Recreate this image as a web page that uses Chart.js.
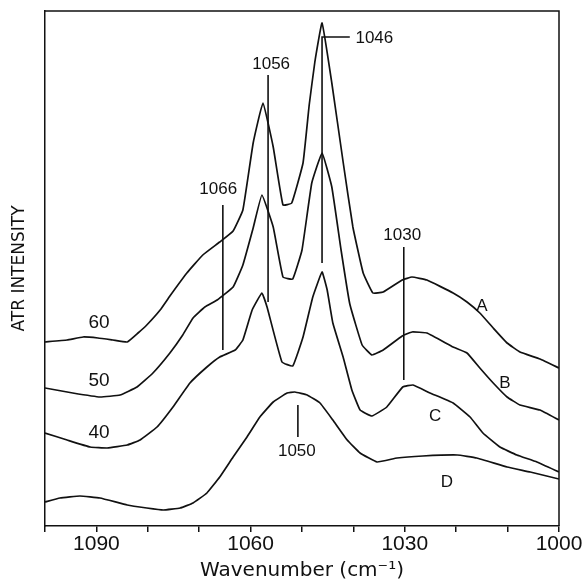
<!DOCTYPE html>
<html>
<head>
<meta charset="utf-8">
<script src="https://cdn.jsdelivr.net/npm/chart.js@4.4.1/dist/chart.umd.min.js"></script>
<style>
    html, body { margin: 0; padding: 0; background: #ffffff; }
    #wrap { width: 588px; height: 588px; }
</style>
</head>
<body>
<div id="wrap"><canvas id="atrChart" width="588" height="588"></canvas></div>
<script>
// Spectra (wavenumber in cm-1, intensity in arbitrary units)
const wavenumberA = [1100, 1095.7, 1092.6, 1089.7, 1086.8, 1084.0, 1081.9, 1080.2, 1077.6, 1075.7, 1072.4, 1069.3, 1066.0, 1063.4, 1061.5, 1059.5, 1057.6, 1055.6, 1053.7, 1052.0, 1049.8, 1048.6, 1047.5, 1046.1, 1044.2, 1042.0, 1040.1, 1038.1, 1036.2, 1034.2, 1030.5, 1028.6, 1025.7, 1020.6, 1017.9, 1015.4, 1012.8, 1010.1, 1007.6, 1003.7, 1000];
const intensityA  = [184, 186, 189, 188, 186, 184, 193, 201, 216, 230, 253, 271, 284, 295, 316, 383, 423, 379, 321, 323, 363, 421, 464, 503, 443, 364, 299, 253, 233, 234, 246, 249, 246, 233, 224, 213, 198, 183, 174, 167, 158];

const wavenumberB = [1100, 1094.6, 1089.3, 1085.4, 1082.1, 1079.0, 1075.7, 1073.2, 1071.2, 1068.9, 1066.5, 1063.4, 1061.5, 1059.5, 1057.8, 1055.6, 1053.7, 1051.8, 1050.0, 1048.1, 1046.1, 1044.2, 1042.4, 1040.7, 1038.3, 1036.4, 1034.2, 1030.5, 1028.6, 1025.7, 1020.6, 1017.9, 1015.4, 1012.8, 1010.1, 1007.6, 1003.7, 1000];
const intensityB  = [138, 133, 129, 131, 139, 153, 173, 191, 208, 219, 226, 239, 261, 298, 331, 299, 249, 247, 276, 343, 373, 339, 276, 222, 181, 171, 176, 190, 194, 193, 179, 173, 158, 143, 129, 121, 116, 106];

const wavenumberC = [1100, 1095.7, 1091.2, 1087.9, 1084.0, 1081.5, 1078.2, 1075.1, 1071.8, 1068.5, 1066.0, 1063.0, 1061.5, 1059.7, 1057.8, 1056.8, 1053.9, 1051.8, 1049.8, 1047.9, 1046.1, 1045.1, 1044.0, 1042.0, 1040.3, 1038.7, 1036.4, 1033.5, 1030.4, 1028.4, 1025.1, 1020.6, 1017.3, 1014.8, 1011.5, 1008.2, 1004.3, 1000];
const intensityC  = [93, 86, 79, 78, 81, 86, 99, 119, 143, 159, 169, 176, 186, 216, 233, 219, 164, 160, 189, 229, 254, 236, 203, 169, 136, 116, 110, 119, 139, 141, 133, 123, 109, 93, 79, 71, 64, 54];

const wavenumberD = [1100, 1097.1, 1093.2, 1089.3, 1084.0, 1080.2, 1077.0, 1073.7, 1071.2, 1068.5, 1066.0, 1063.4, 1060.7, 1058.2, 1055.6, 1052.9, 1051.4, 1049.0, 1046.5, 1044.0, 1041.2, 1038.7, 1035.4, 1031.5, 1026.5, 1019.8, 1016.0, 1010.1, 1005.6, 1000];
const intensityD  = [24, 28, 30, 28, 21, 18, 16, 18, 23, 33, 49, 69, 89, 109, 124, 133, 134, 131, 123, 106, 86, 73, 64, 68, 70, 71, 68, 59, 54, 47];

// Peak marker lines (wavenumber, lower and upper intensity) and their labels
const markerWavenumber = [1065.4, 1056.6, 1046.1, 1030.2, 1050.8];
const markerLow        = [176, 224, 263, 146, 89];
const markerHigh       = [321, 451, 489, 279, 121];
const leader1046End    = 1040.7;

const peakLabelText = ['1066', '1056', '1046', '1030', '1050'];
const peakLabelX    = [1066.3, 1056.0, 1039.6, 1030.5, 1051.0];
const peakLabelY    = [337, 462, 488, 291, 75];

// Temperature and curve letters
const curveLabelText = ['60', '50', '40', 'A', 'B', 'C', 'D'];
const curveLabelX    = [1089.5, 1089.5, 1089.5, 1015.0, 1010.5, 1024.1, 1021.8];
const curveLabelY    = [203, 145, 93, 220, 143, 110, 44];

// X axis labels every 30 cm-1
const labelledTicks = [1090, 1060, 1030, 1000];

const INK = '#111111';

function toPoints(xs, ys) {
    return xs.map((x, i) => ({ x: x, y: ys[i] }));
}

function spectrum(xs, ys) {
    return {
        data: toPoints(xs, ys),
        borderColor: INK,
        borderWidth: 1.7,
        pointRadius: 0,
        tension: 0.1,
        fill: false
    };
}

function marker(i) {
    const x = markerWavenumber[i];
    const pts = [{ x: x, y: markerLow[i] }, { x: x, y: markerHigh[i] }];
    if (peakLabelText[i] === '1046') {
        pts.push({ x: leader1046End, y: markerHigh[i] });
    }
    return {
        data: pts,
        borderColor: INK,
        borderWidth: 1.6,
        pointRadius: 0,
        tension: 0,
        fill: false
    };
}

// Frame on top/right plus all text annotations
const annotationPlugin = {
    id: 'annotations',
    afterDatasetsDraw(chart) {
        const ctx = chart.ctx;
        const xs = chart.scales.x;
        const ys = chart.scales.y;
        const area = chart.chartArea;

        ctx.save();
        ctx.strokeStyle = INK;
        ctx.lineWidth = 1.5;
        ctx.beginPath();
        ctx.moveTo(area.left, area.top);
        ctx.lineTo(area.right, area.top);
        ctx.lineTo(area.right, area.bottom);
        ctx.stroke();

        ctx.fillStyle = INK;
        ctx.textBaseline = 'middle';

        ctx.font = '17px "Liberation Sans", Arial, sans-serif';
        peakLabelText.forEach((t, i) => {
            ctx.textAlign = t === '1046' ? 'left' : 'center';
            ctx.fillText(t, xs.getPixelForValue(peakLabelX[i]), ys.getPixelForValue(peakLabelY[i]));
        });

        curveLabelText.forEach((t, i) => {
            ctx.textAlign = 'center';
            ctx.font = (/^\d/.test(t) ? '19px' : '17px') + ' "Liberation Sans", Arial, sans-serif';
            ctx.fillText(t, xs.getPixelForValue(curveLabelX[i]), ys.getPixelForValue(curveLabelY[i]));
        });
        ctx.restore();
    }
};

const datasets = [
    spectrum(wavenumberA, intensityA),
    spectrum(wavenumberB, intensityB),
    spectrum(wavenumberC, intensityC),
    spectrum(wavenumberD, intensityD)
];
markerWavenumber.forEach((_, i) => datasets.push(marker(i)));

const ctx = document.getElementById('atrChart').getContext('2d');
new Chart(ctx, {
    type: 'line',
    data: { datasets: datasets },
    options: {
        responsive: false,
        animation: false,
        layout: { padding: { top: 11, right: 29, left: 0, bottom: 0 } },
        plugins: {
            legend: { display: false },
            tooltip: { enabled: false }
        },
        scales: {
            x: {
                type: 'linear',
                reverse: true,
                min: 1000,
                max: 1100,
                afterFit: (scale) => { scale.height = 62; },
                grid: {
                    drawOnChartArea: false,
                    drawTicks: true,
                    tickLength: 6,
                    color: INK,
                    lineWidth: 1.5
                },
                border: { display: true, color: INK, width: 1.5 },
                ticks: {
                    stepSize: 10,
                    autoSkip: false,
                    maxRotation: 0,
                    padding: 0,
                    color: INK,
                    font: { family: '"Liberation Sans", Arial, sans-serif', size: 21 },
                    callback: (value) => labelledTicks.includes(value) ? String(value) : ''
                },
                title: {
                    display: true,
                    text: 'Wavenumber (cm\u207B\u00B9)',
                    color: INK,
                    font: { family: '"DejaVu Sans", sans-serif', size: 20 },
                    padding: { top: 0, bottom: 5 }
                }
            },
            y: {
                min: 0,
                max: 515,
                afterFit: (scale) => { scale.width = 45; },
                grid: { display: false },
                border: { display: true, color: INK, width: 1.5 },
                ticks: { display: false },
                title: {
                    display: true,
                    text: 'ATR INTENSITY',
                    color: INK,
                    font: { family: '"DejaVu Sans", sans-serif', size: 17 },
                    padding: { top: 9, bottom: 0 }
                }
            }
        }
    },
    plugins: [annotationPlugin]
});
</script>
</body>
</html>
